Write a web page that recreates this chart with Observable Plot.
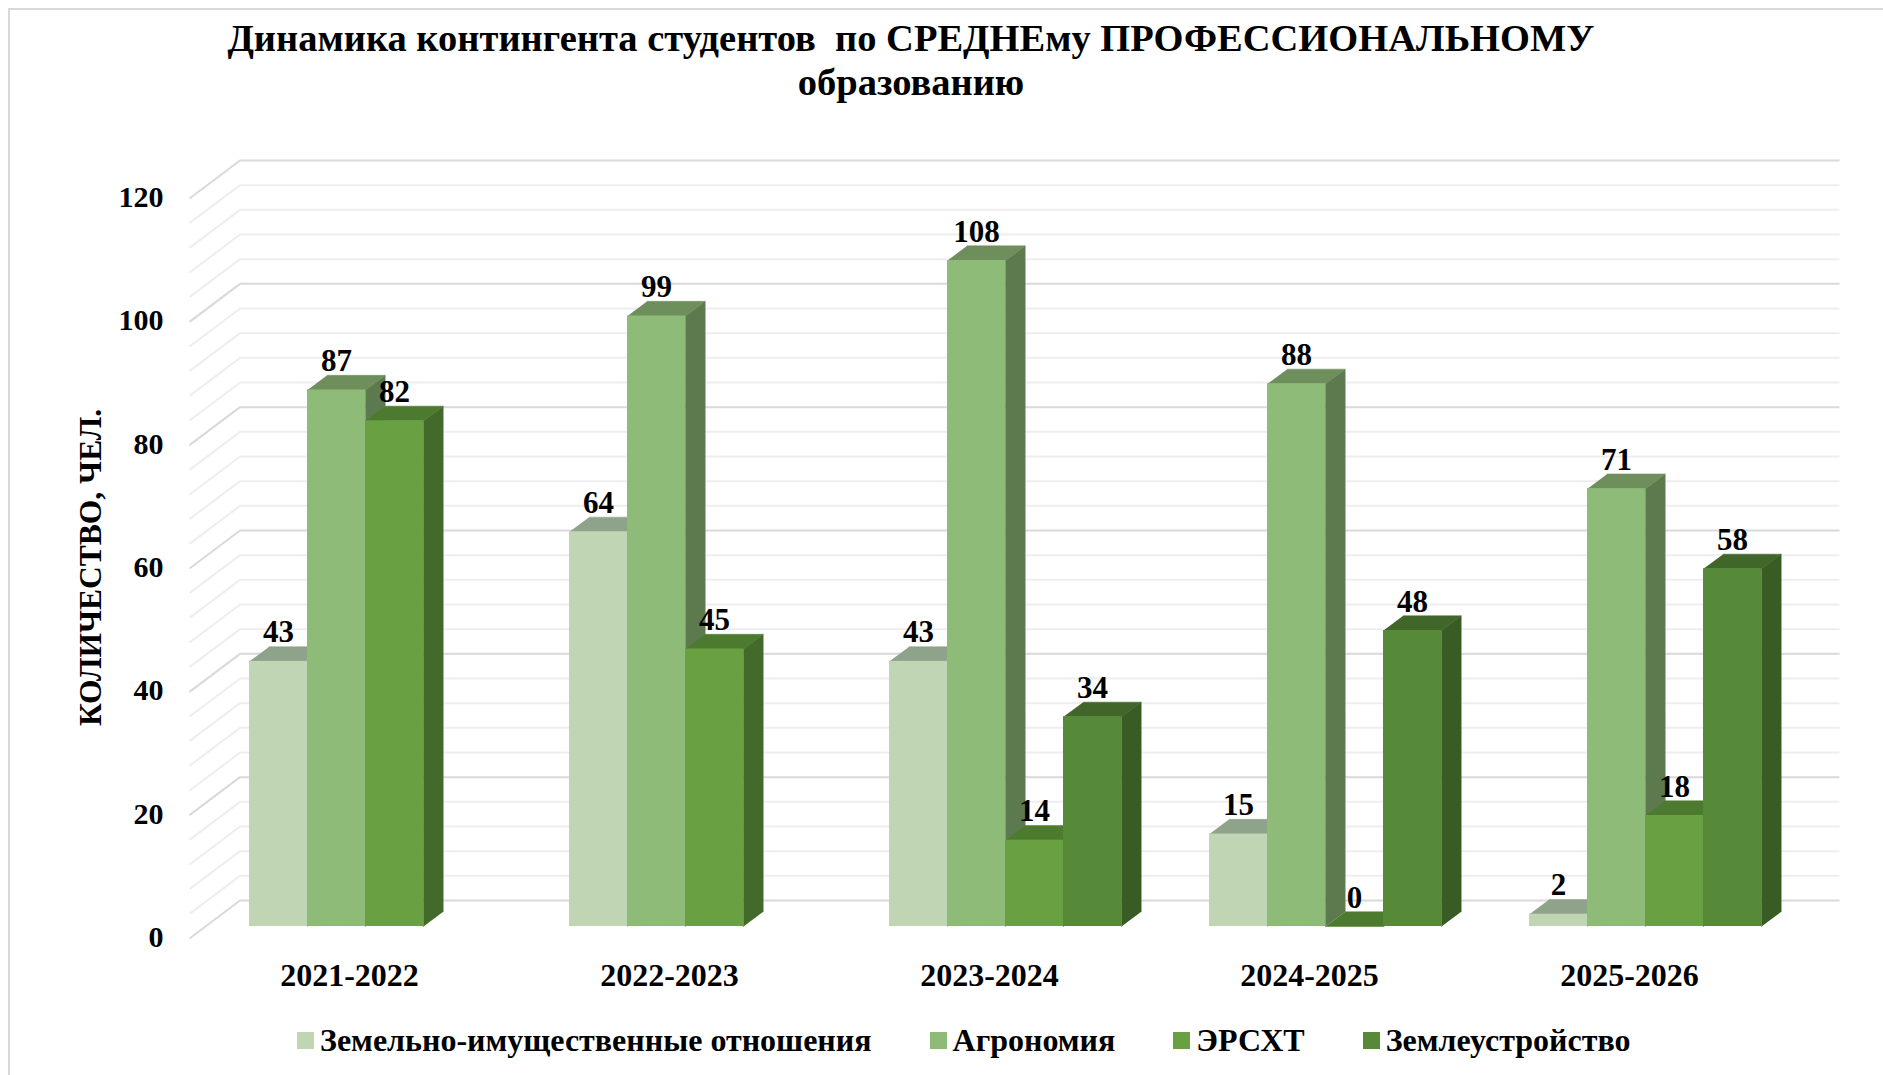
<!DOCTYPE html>
<html>
<head>
<meta charset="utf-8">
<script src="https://cdn.jsdelivr.net/npm/d3@7"></script>
<script src="https://cdn.jsdelivr.net/npm/@observablehq/plot@0.6"></script>
<style>
  html, body { margin: 0; padding: 0; background: #ffffff; overflow: hidden; }
  #wrap { position: relative; width: 1883px; height: 1075px; overflow: hidden; font-family: "Liberation Serif", "Times New Roman", serif; }
  #border { position: absolute; left: 8px; top: 8px; width: 2000px; height: 2000px; border: 2px solid #d9d9d9; box-sizing: border-box; }
  #title { position: absolute; left: 0; top: 16px; width: 1822px; text-align: center; font-weight: bold; font-size: 38.5px; line-height: 44px; white-space: pre; color: #000; }
  #chart { position: absolute; left: 0; top: 120px; }
  #legend { position: absolute; left: 297px; top: 1020px; height: 40px; display: flex; align-items: center; font-weight: bold; font-size: 32px; color: #000; white-space: nowrap; }
  .item { display: flex; align-items: center; margin-right: 58px; }
  .sw { width: 17px; height: 17px; margin-right: 6px; }
</style>
</head>
<body>
<div id="wrap">
  <div id="border"></div>
  <div id="title"></div>
  <div id="chart"></div>
  <div id="legend"></div>
</div>
<script>
// ---- data ----
const titleLines = ["Динамика контингента студентов  по СРЕДНЕму ПРОФЕССИОНАЛЬНОМУ", "образованию"];
const yTitle = "КОЛИЧЕСТВО, ЧЕЛ.";
const years = ["2021-2022", "2022-2023", "2023-2024", "2024-2025", "2025-2026"];
const seriesNames = ["Земельно-имущественные отношения", "Агрономия", "ЭРСХТ", "Землеустройство"];
const zio   = [43, 64, 43, 15, 2];
const agro  = [87, 99, 108, 88, 71];
const ersht = [82, 45, 14, 0, 18];
const zemle = [null, null, 34, 48, 58];
const yTicks = [0, 20, 40, 60, 80, 100, 120];
const gridTicks = d3.range(0, 121, 4);

// ---- styles ----
const frontColors = ["#c0d5b3", "#8fbb79", "#69a142", "#578a38"];
const topColors   = ["#8fa38a", "#6e8f5c", "#4c7b30", "#40662a"];
const sideColors  = ["#8a9d84", "#5d7a4e", "#446a2b", "#395b24"];
const majorGrid = "#d9d9d9", minorGrid = "#eeeeee";

const W = 1883, H = 890;
const mL = 205, mR = 78, mT = 66, mB = 84;
const pxX = (W - mL - mR) / 5;       // px per x unit
const pxY = (H - mT - mB) / 120;     // px per y unit
// oblique depth offsets in px
const bar = {dx: 19.7, dy: 14.7};
const wall = {dx: 34.5, dy: 26};
const front = {dx: -16, dy: -12};
const bdx = bar.dx / pxX, bdy = bar.dy / pxY;
const wdx = wall.dx / pxX, wdy = wall.dy / pxY;
const fdx = front.dx / pxX, fdy = front.dy / pxY;

const groupW = 0.725, barW = groupW / 4;
const allSeries = [zio, agro, ersht, zemle];

const bars = [];
years.forEach((yr, i) => {
  allSeries.forEach((vals, j) => {
    const v = vals[i];
    if (v === null || v === undefined) return;
    const x1 = i - groupW / 2 + j * barW;
    bars.push({year: yr, series: seriesNames[j], j, v, x1, x2: x1 + barW, xc: x1 + barW / 2});
  });
});

const faces = [];
bars.forEach((b, k) => {
  const side = [[b.x2, 0], [b.x2, b.v], [b.x2 + bdx, b.v + bdy], [b.x2 + bdx, bdy]];
  const top = [[b.x1, b.v], [b.x2, b.v], [b.x2 + bdx, b.v + bdy], [b.x1 + bdx, b.v + bdy]];
  side.forEach(([x, y]) => faces.push({id: "s" + k, x, y, col: sideColors[b.j]}));
  top.forEach(([x, y]) => faces.push({id: "t" + k, x, y, col: topColors[b.j]}));
});

const serif = "'Liberation Serif', 'Times New Roman', serif";

const chart = Plot.plot({
  width: W, height: H,
  marginLeft: mL, marginRight: mR, marginTop: mT, marginBottom: mB,
  x: {domain: [-0.5, 4.5], axis: null},
  y: {domain: [0, 120], axis: null},
  color: {type: "identity"},
  style: {fontFamily: serif, background: "transparent", overflow: "visible", color: "#000"},
  marks: [
    // back wall grid
    Plot.ruleY(gridTicks, {y: d => d + wdy, x1: -0.5 + wdx, x2: 4.5 + wdx,
      stroke: d => d % 20 === 0 ? majorGrid : minorGrid, strokeWidth: 2}),
    // side wall diagonals
    Plot.link(gridTicks, {x1: -0.5 + fdx, y1: d => d + fdy, x2: -0.5 + wdx, y2: d => d + wdy,
      stroke: d => d % 20 === 0 ? majorGrid : minorGrid, strokeWidth: 2}),
    // side + top faces
    Plot.line(faces, {x: "x", y: "y", z: "id", fill: "col", stroke: "col", strokeWidth: 0.5, curve: "linear"}),
    // front faces
    Plot.rect(bars, {x1: "x1", x2: "x2", y1: 0, y2: "v", fill: d => frontColors[d.j]}),
    // value labels
    Plot.text(bars, {x: "xc", y: "v", text: d => String(d.v), dy: -19, lineAnchor: "bottom",
      fontSize: 31, fontWeight: "bold", fill: "#000"}),
    // y tick labels
    Plot.text(yTicks, {x: -0.5, y: d => d, text: d => String(d), dx: front.dx - 26, dy: -front.dy - 1,
      textAnchor: "end", lineAnchor: "middle", fontSize: 30, fontWeight: "bold", fill: "#000"}),
    // x category labels
    Plot.text(years, {x: (d, i) => i, y: 0, text: d => d, dx: front.dx, dy: 49,
      lineAnchor: "middle", fontSize: 32, fontWeight: "bold", fill: "#000"}),
    // y axis title
    Plot.text([yTitle], {frameAnchor: "left", text: d => d, rotate: -90, dx: -115, dy: 11,
      textAnchor: "middle", lineAnchor: "middle", fontSize: 31.5, fontWeight: "bold", fill: "#000"})
  ]
});
document.getElementById("chart").appendChild(chart);

document.getElementById("title").innerHTML = titleLines.join("<br>");
const legend = document.getElementById("legend");
seriesNames.forEach((name, j) => {
  const item = document.createElement("div");
  item.className = "item";
  const sw = document.createElement("div");
  sw.className = "sw";
  sw.style.background = frontColors[j];
  const label = document.createElement("span");
  label.textContent = name;
  item.appendChild(sw); item.appendChild(label);
  legend.appendChild(item);
});
</script>
</body>
</html>
